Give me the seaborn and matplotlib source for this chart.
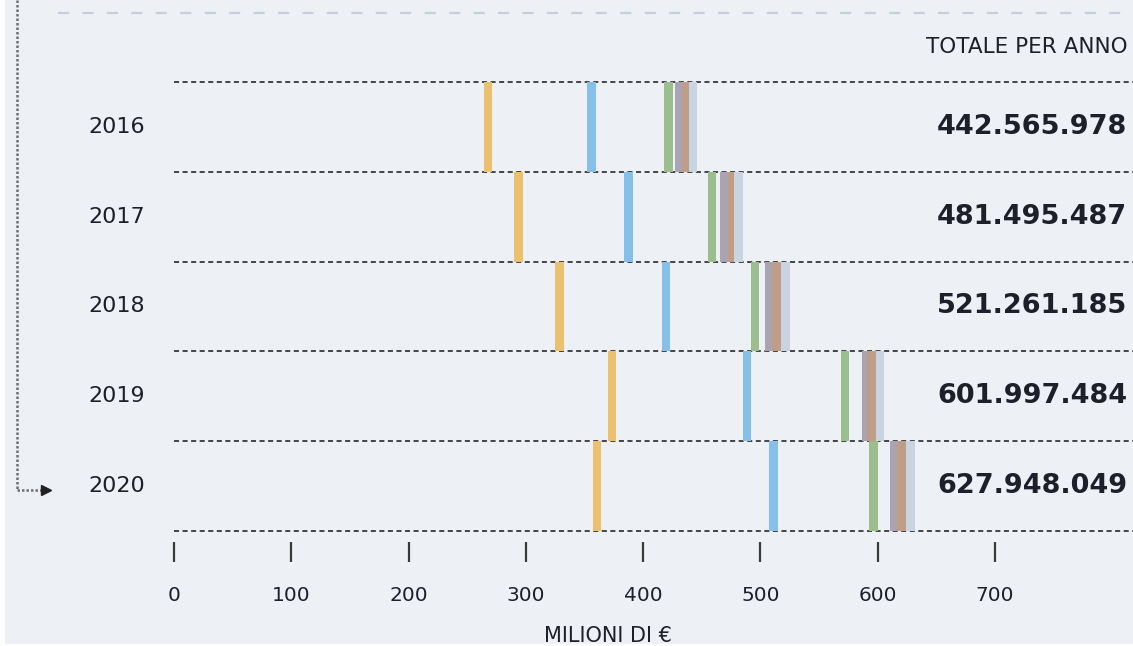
import matplotlib
matplotlib.use("Agg")
import matplotlib.pyplot as plt
import seaborn as sns
import pandas as pd
from matplotlib.lines import Line2D
from matplotlib.patches import Rectangle
from matplotlib.transforms import blended_transform_factory

# ---- data (milioni di euro, valori cumulati per anno) ----
years = ["2016", "2017", "2018", "2019", "2020"]
quota_1 = [267.7, 294.0, 328.6, 373.4, 360.6]
quota_2 = [355.8, 387.5, 419.5, 488.5, 511.0]
quota_3 = [421.5, 458.7, 495.3, 572.0, 596.3]
quota_4 = [431.0, 469.6, 508.0, 590.0, 614.0]
quota_5 = [437.0, 475.7, 513.6, 594.6, 620.0]
totals = [442565978, 481495487, 521261185, 601997484, 627948049]
x_ticks = [0, 100, 200, 300, 400, 500, 600, 700]

series_colors = ["#ebc06f", "#86bfe9", "#9cbd8d", "#aaa4b2", "#c09d87", "#c9d4e3"]
series_names = ["q1", "q2", "q3", "q4", "q5", "totale"]

rows = []
for name, vals in zip(series_names,
                      [quota_1, quota_2, quota_3, quota_4, quota_5,
                       [t / 1e6 for t in totals]]):
    for i, (y, v) in enumerate(zip(years, vals)):
        rows.append({"anno": y, "row": i, "serie": name, "valore": v})
df = pd.DataFrame(rows)

BG = "#edf0f5"
TXT = "#1e1f2b"
W, H = 1133, 646

sns.set_theme(style="white", rc={"axes.facecolor": BG, "figure.facecolor": BG})
plt.rcParams["font.family"] = ["DejaVu Sans"]

fig = plt.figure(figsize=(W / 100, H / 100), dpi=100)


def fx(px):
    return px / W


def fy(py):
    return 1 - py / H


ax = fig.add_axes([fx(174), fy(552), 1 - fx(174), fy(82) - fy(552)])
ax.set_facecolor(BG)
ax.set_xlim(0, (W - 174) / 1.1729)
ax.set_ylim(5 + 21 / 89.8, 0)
sns.despine(ax=ax, left=True, bottom=True, top=True, right=True)

# row separators
for b in range(len(years) + 1):
    ax.axhline(b, color="#44444a", lw=1.4, ls=(0, (2.6, 1.8)), clip_on=False, zorder=1)

# thin markers at cumulative values
for name, color in zip(series_names, series_colors):
    sub = df[df["serie"] == name]
    ax.bar(sub["valore"], height=1, bottom=sub["row"], width=7.5,
           color=color, align="center", zorder=3, linewidth=0)

ax.set_xticks(x_ticks)
ax.set_xticklabels([str(t) for t in x_ticks])
ax.set_yticks([])
ax.tick_params(axis="x", direction="inout", length=15, width=1.6, color="#3a3a3a",
               pad=17, labelsize=14.5, labelcolor=TXT, bottom=True)

# year labels and totals
tr = blended_transform_factory(fig.transFigure, ax.transData)
tr_ax = blended_transform_factory(ax.transAxes, ax.transData)
for i, (y, t) in enumerate(zip(years, totals)):
    ax.text(fx(117), i + 0.5, y, transform=tr, ha="center", va="center",
            fontsize=16, color=TXT)
    label = f"{t:,}".replace(",", ".")
    ax.text(0.994, i + 0.5, label, transform=tr_ax, ha="right", va="center",
            fontsize=19.5, fontweight="bold", color=TXT)

fig.text(fx(1128), fy(47), "TOTALE PER ANNO", ha="right", va="center",
         fontsize=15.5, color=TXT)
fig.text(fx(608), fy(636), "MILIONI DI €", ha="center", va="center",
         fontsize=15, color=TXT)

# decorative guide lines
fig.add_artist(Line2D([fx(58), fx(W)], [fy(13), fy(13)], color="#c6cfdc",
                      lw=1.6, ls=(0, (5, 6))))
fig.add_artist(Line2D([fx(17), fx(17)], [fy(0), fy(490)], color="#6f6f76",
                      lw=1.8, ls=(0, (1, 0.8))))
fig.add_artist(Line2D([fx(17), fx(44)], [fy(490), fy(490)], color="#6f6f76",
                      lw=1.8, ls=(0, (1, 0.8))))
fig.add_artist(Line2D([fx(46)], [fy(490)], marker=">", markersize=7,
                      color="#222222", lw=0))

# white page margins
fig.add_artist(Rectangle((0, 0), fx(5), 1, transform=fig.transFigure,
                         facecolor="white", edgecolor="none", zorder=10))
fig.add_artist(Rectangle((0, 0), 1, 2 / H, transform=fig.transFigure,
                         facecolor="white", edgecolor="none", zorder=10))

fig.savefig("out.png", dpi=100, facecolor=BG)
